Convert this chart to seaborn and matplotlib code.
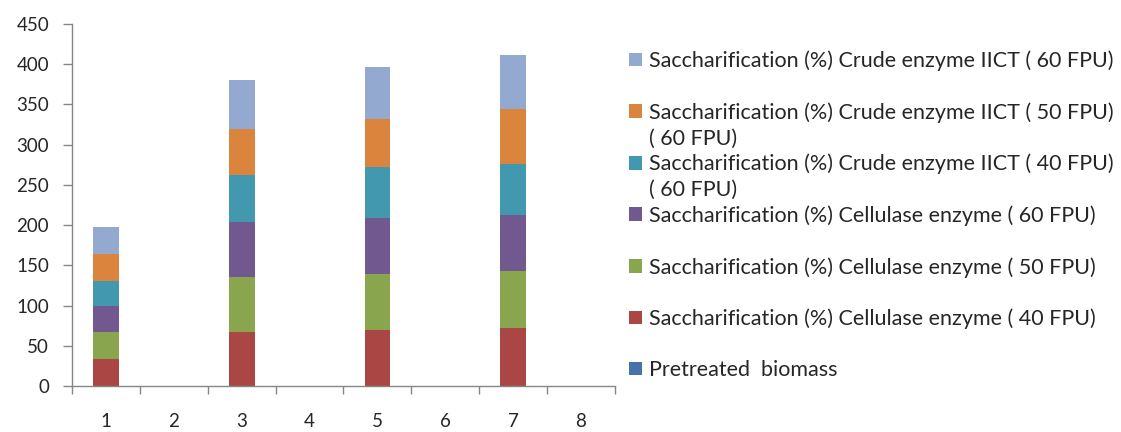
import numpy as np
import pandas as pd
import seaborn as sns
import matplotlib.pyplot as plt
from matplotlib.patches import Patch

# values
categories = ["1", "2", "3", "4", "5", "6", "7", "8"]
pretreated = [0, 0, 0, 0, 0, 0, 0, 0]
cellulase_40 = [33.6, 0, 66.7, 0, 69.7, 0, 72.5, 0]
cellulase_50 = [33.1, 0, 68.5, 0, 70.0, 0, 70.2, 0]
cellulase_60 = [32.8, 0, 68.4, 0, 69.6, 0, 69.6, 0]
crude_40 = [31.1, 0, 58.4, 0, 63.1, 0, 64.2, 0]
crude_50 = [33.2, 0, 57.2, 0, 59.6, 0, 67.2, 0]
crude_60 = [34.3, 0, 61.4, 0, 64.4, 0, 67.3, 0]

series_names = [
    "Pretreated  biomass",
    "Saccharification (%) Cellulase enzyme ( 40 FPU)",
    "Saccharification (%) Cellulase enzyme ( 50 FPU)",
    "Saccharification (%) Cellulase enzyme ( 60 FPU)",
    "Saccharification (%) Crude enzyme IICT ( 40 FPU)",
    "Saccharification (%) Crude enzyme IICT ( 50 FPU)",
    "Saccharification (%) Crude enzyme IICT ( 60 FPU)",
]
series_values = [pretreated, cellulase_40, cellulase_50, cellulase_60,
                 crude_40, crude_50, crude_60]
colors = ["#4572A7", "#AA4643", "#89A54E", "#71588F", "#4198AF", "#DB843D", "#93A9CF"]

df = pd.DataFrame({"Category": categories})
for name, vals in zip(series_names, series_values):
    df[name] = vals

sns.set_style("ticks")
plt.rcParams['font.family'] = ['Lato', 'DejaVu Sans']

fig = plt.figure(figsize=(11.21, 4.32), dpi=100)
ax = fig.add_axes([0.0642, 0.1065, 0.4844, 0.8380])

# stacked bars, one seaborn call per series
bottom = np.zeros(len(categories))
for name, color in zip(series_names, colors):
    sns.barplot(data=df, x="Category", y=name, color=color, width=0.38,
                bottom=bottom.copy(), saturation=1, errorbar=None,
                linewidth=0, ax=ax)
    bottom += df[name].to_numpy()

ax.set_xlabel("")
ax.set_ylabel("")
ax.set_ylim(0, 450)
ax.set_xlim(-0.5, len(categories) - 0.5)
ax.set_yticks(np.arange(0, 451, 50))

grey = "#868686"
for side in ["top", "right"]:
    ax.spines[side].set_visible(False)
for side in ["left", "bottom"]:
    ax.spines[side].set_color(grey)
    ax.spines[side].set_linewidth(1.0)

ax.set_xticks(np.arange(-0.5, len(categories), 1.0), minor=True)
ax.tick_params(axis="x", which="major", length=0, pad=19.5, labelsize=13.5)
ax.tick_params(axis="x", which="minor", length=5.5, width=1, color=grey, direction="out")
ax.tick_params(axis="y", which="major", length=6.5, width=1, color=grey,
               direction="out", pad=10, labelsize=13.5)

# legend, Excel-style reversed order
handles = [Patch(facecolor=c, edgecolor="none") for c in colors][::-1]
labels = series_names[::-1]
leg = fig.legend(handles, labels, loc="upper left", bbox_to_anchor=(0.561, 0.883),
                 frameon=False, fontsize=15.5, handlelength=0.6, handleheight=0.6,
                 handletextpad=0.35, labelspacing=1.44, borderpad=0, borderaxespad=0)

# the wrapped second lines of two legend entries
fig.canvas.draw()
inv = fig.transFigure.inverted()
for idx in [1, 2]:
    bb = leg.get_texts()[idx].get_window_extent()
    x0, y0 = inv.transform((bb.x0, bb.y0 - 6))
    fig.text(x0, y0, "( 60 FPU)", fontsize=15.5, ha="left", va="top")

fig.savefig("out.png", dpi=100)
